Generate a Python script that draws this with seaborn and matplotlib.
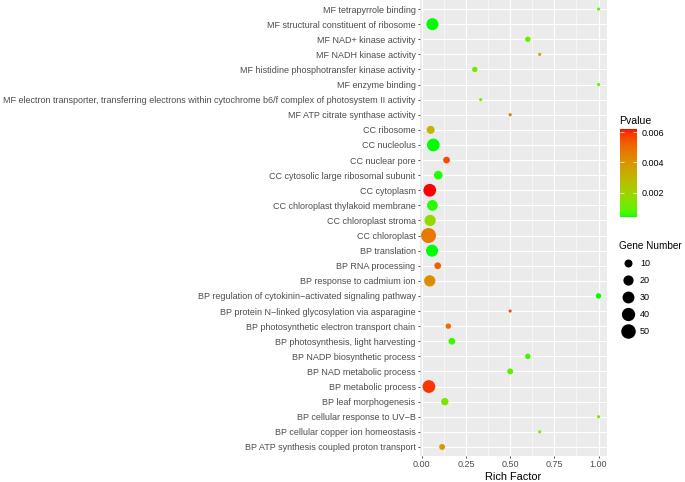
import numpy as np
import pandas as pd
import matplotlib
matplotlib.use("Agg")
import matplotlib.pyplot as plt
from matplotlib.colors import ListedColormap, Normalize
from matplotlib.lines import Line2D
import seaborn as sns

# GO terms, top to bottom as drawn
terms = [
    "MF tetrapyrrole binding",
    "MF structural constituent of ribosome",
    "MF NAD+ kinase activity",
    "MF NADH kinase activity",
    "MF histidine phosphotransfer kinase activity",
    "MF enzyme binding",
    "MF electron transporter, transferring electrons within cytochrome b6/f complex of photosystem II activity",
    "MF ATP citrate synthase activity",
    "CC ribosome",
    "CC nucleolus",
    "CC nuclear pore",
    "CC cytosolic large ribosomal subunit",
    "CC cytoplasm",
    "CC chloroplast thylakoid membrane",
    "CC chloroplast stroma",
    "CC chloroplast",
    "BP translation",
    "BP RNA processing",
    "BP response to cadmium ion",
    "BP regulation of cytokinin\u2212activated signaling pathway",
    "BP protein N\u2212linked glycosylation via asparagine",
    "BP photosynthetic electron transport chain",
    "BP photosynthesis, light harvesting",
    "BP NADP biosynthetic process",
    "BP NAD metabolic process",
    "BP metabolic process",
    "BP leaf morphogenesis",
    "BP cellular response to UV\u2212B",
    "BP cellular copper ion homeostasis",
    "BP ATP synthesis coupled proton transport",
]
rich_factor = [1.0, 0.06, 0.6, 0.667, 0.3, 1.0, 0.333, 0.5,
               0.05, 0.065, 0.14, 0.093, 0.045, 0.06, 0.047, 0.038,
               0.058, 0.09, 0.045, 1.0, 0.5, 0.15, 0.17, 0.6, 0.5,
               0.04, 0.13, 1.0, 0.667, 0.115]
pvalue = [0.0008, 0.0004, 0.0010, 0.0035, 0.0012, 0.0008, 0.0015, 0.0048,
          0.0030, 0.0004, 0.0056, 0.0005, 0.0062, 0.0005, 0.0017, 0.0047,
          0.0004, 0.0052, 0.0042, 0.0004, 0.0055, 0.0050, 0.0006, 0.0006,
          0.0009, 0.0059, 0.0013, 0.0011, 0.0013, 0.0038]
gene_number = [1, 31, 3, 1, 3, 1, 1, 1,
               10, 36, 6, 13, 36, 23, 26, 54,
               31, 6, 26, 3, 1, 3, 6, 3, 4,
               36, 8, 1, 1, 4]
size_breaks = [10, 20, 30, 40, 50]
p_breaks = [0.002, 0.004, 0.006]

df = pd.DataFrame({"term": terms, "rich": rich_factor,
                   "pvalue": pvalue, "genes": gene_number})


# green -> red gradient interpolated in Lab, like ggplot's scale_colour_gradient
def srgb_to_lab(rgb):
    rgb = np.asarray(rgb, float)
    lin = np.where(rgb <= 0.04045, rgb / 12.92, ((rgb + 0.055) / 1.055) ** 2.4)
    m = np.array([[0.4124, 0.3576, 0.1805],
                  [0.2126, 0.7152, 0.0722],
                  [0.0193, 0.1192, 0.9505]])
    xyz = m @ lin / np.array([0.95047, 1.0, 1.08883])
    f = np.where(xyz > 0.008856, np.cbrt(xyz), 7.787 * xyz + 16 / 116)
    return np.array([116 * f[1] - 16, 500 * (f[0] - f[1]), 200 * (f[1] - f[2])])


def lab_to_srgb(lab):
    L, a, b = lab
    fy = (L + 16) / 116
    fx = fy + a / 500
    fz = fy - b / 200
    f = np.array([fx, fy, fz])
    xyz = np.where(f ** 3 > 0.008856, f ** 3, (f - 16 / 116) / 7.787)
    xyz = xyz * np.array([0.95047, 1.0, 1.08883])
    minv = np.array([[3.2406, -1.5372, -0.4986],
                     [-0.9689, 1.8758, 0.0415],
                     [0.0557, -0.2040, 1.0570]])
    lin = minv @ xyz
    lin = np.clip(lin, 0, 1)
    rgb = np.where(lin <= 0.0031308, 12.92 * lin, 1.055 * lin ** (1 / 2.4) - 0.055)
    return np.clip(rgb, 0, 1)


lab_lo = srgb_to_lab([0, 1, 0])
lab_hi = srgb_to_lab([1, 0, 0])
cmap = ListedColormap([lab_to_srgb(lab_lo + t * (lab_hi - lab_lo))
                       for t in np.linspace(0, 1, 256)])
p_norm = (min(pvalue), max(pvalue))


# ggplot-like area scale: size range 1..6 mm
def diam_pt(n):
    lo, hi = min(gene_number), max(gene_number)
    size = 1 + 5 * np.sqrt((n - lo) / (hi - lo))
    return (2.845 * size + 0.945) * 0.83 * 0.72


sizes = {n: diam_pt(n) ** 2 for n in set(gene_number)}

plt.rcParams['font.family'] = ['Liberation Sans', 'DejaVu Sans']
fig = plt.figure(figsize=(6.85, 4.82), dpi=100)
ax = fig.add_axes([420 / 685, 1 - 456 / 482, 187 / 685, 456 / 482])
ax.set_facecolor("#EBEBEB")

sns.scatterplot(data=df, x="rich", y="term", hue="pvalue", size="genes",
                palette=cmap, hue_norm=p_norm, sizes=sizes, linewidth=0,
                legend=False, ax=ax, zorder=3)

ax.set_ylim(len(terms) - 1 + 0.6, -0.6)
ax.set_xlim(-0.0102, 1.048)
ax.set_xticks([0, 0.25, 0.5, 0.75, 1.0])
ax.set_xticklabels(["0.00", "0.25", "0.50", "0.75", "1.00"])
ax.set_xticks([0.125, 0.375, 0.625, 0.875], minor=True)
ax.grid(True, which="major", color="white", linewidth=0.85)
ax.grid(True, which="minor", axis="x", color="white", linewidth=0.4)
ax.set_axisbelow(True)
for s in ax.spines.values():
    s.set_visible(False)
ax.tick_params(axis="both", which="major", length=1.7, width=0.6,
               color="#333333", labelcolor="#4D4D4D", labelsize=6.5, pad=1.5)
ax.tick_params(axis="x", which="minor", length=0)
ax.set_ylabel("")
ax.set_xlabel("Rich Factor", fontsize=7.9, labelpad=1.8)

# Pvalue colourbar
fig.text(619 / 685, 1 - 124 / 482, "Pvalue", fontsize=7.6, ha="left", va="baseline")
cax = fig.add_axes([620 / 685, 1 - 217 / 482, 17 / 685, 88 / 482])
sm = plt.cm.ScalarMappable(norm=Normalize(*p_norm), cmap=cmap)
cbar = fig.colorbar(sm, cax=cax, ticks=p_breaks)
cbar.outline.set_visible(False)
cbar.ax.set_yticklabels(["0.002", "0.004", "0.006"])
cax.tick_params(direction="in", color="white", length=3, width=0.5,
                left=True, right=True, labelsize=6.5, labelcolor="black", pad=3)

# Gene Number size legend
handles = [Line2D([], [], marker="o", linestyle="", color="black",
                  markeredgewidth=0, markersize=diam_pt(n), label=str(n))
           for n in size_breaks]
leg = fig.legend(handles=handles, title="Gene Number", loc="upper left",
                 bbox_to_anchor=(615.5 / 685, 1 - 237 / 482), frameon=False,
                 fontsize=6.5, title_fontsize=7.2, labelspacing=0.9,
                 handlelength=2.0, handletextpad=0.3, borderaxespad=0,
                 alignment="left")

fig.savefig("out.png", dpi=100)
